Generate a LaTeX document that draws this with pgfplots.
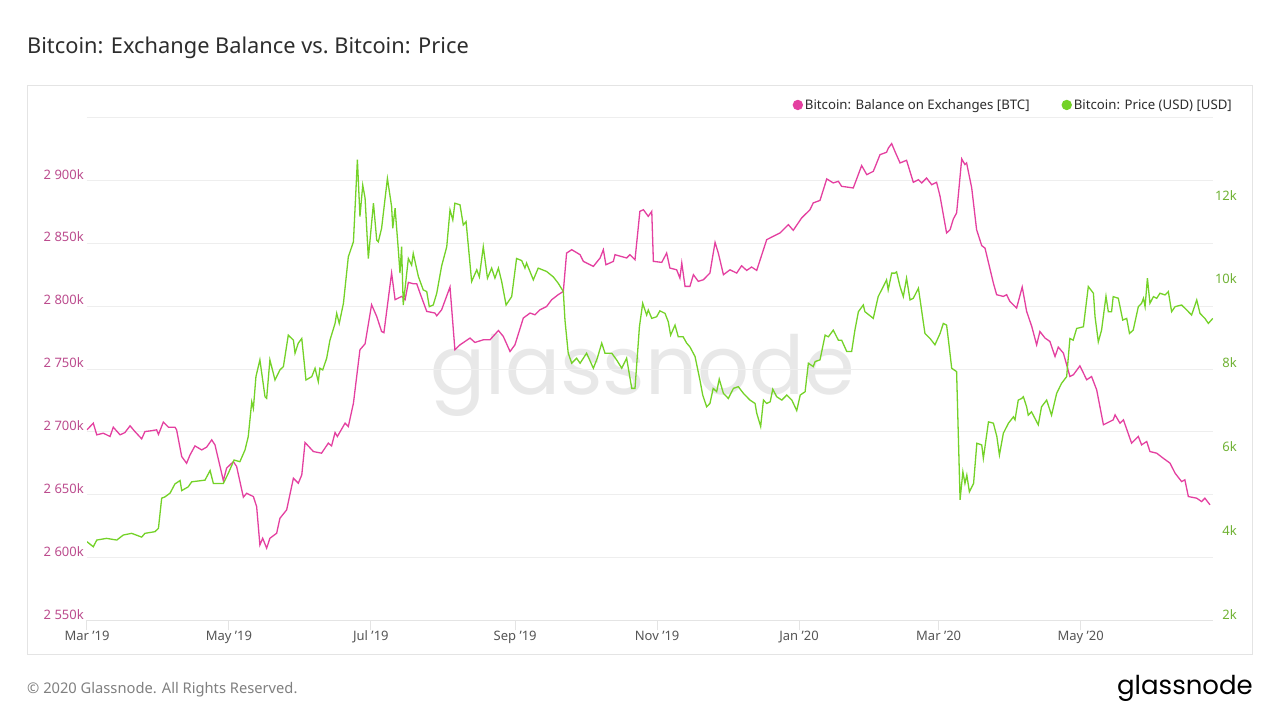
\documentclass[border=0pt]{standalone}
\usepackage{pgfplots}
\pgfplotsset{compat=1.18}
\usepackage{fontspec}
\setmainfont{Noto Sans}
\newfontfamily\logofont{Poppins}
\definecolor{pinkline}{RGB}{228,64,160}
\definecolor{pinklab}{RGB}{188,76,142}
\definecolor{greenline}{RGB}{116,210,40}
\definecolor{greenlab}{RGB}{112,178,52}
\definecolor{titlecol}{RGB}{45,45,45}
\definecolor{ticklab}{RGB}{85,85,85}
\definecolor{gridcol}{RGB}{238,238,238}
\definecolor{framecol}{RGB}{228,228,228}
\definecolor{wmcol}{RGB}{232,232,232}
\newcommand{\fs}[1]{\fontsize{#1pt}{#1pt}\selectfont}

\begin{document}
\begin{tikzpicture}[x=1pt,y=1pt]
\useasboundingbox (0,0) rectangle (1280,720);
\fill[white] (0,0) rectangle (1280,720);
\node[anchor=base west, inner sep=0pt, text=titlecol] at (27,666) {\fs{21.8}Bitcoin: Exchange Balance vs.\ Bitcoin: Price};
\draw[framecol, line width=1pt] (27,65) rectangle (1252,634);
\node[anchor=base west, inner sep=0pt, text=wmcol] at (430,325) {\logofont\fs{81.4}glassnode};
\node[anchor=base west, inner sep=0pt, text=gray] at (27,26) {\fs{14.7}© 2020 Glassnode. All Rights Reserved.};
\node[anchor=base east, inner sep=0pt, text=black] at (1253,25) {\logofont\fs{26}glassnode};

\begin{axis}[
 scale only axis, width=1126pt, height=502.8pt,
 at={(87pt,99.5pt)}, anchor=south west,
 xmin=0, xmax=483.9, ymin=2550, ymax=2950,
 axis x line*=bottom, axis y line*=left,
 separate axis lines,
 x axis line style={draw=framecol, line width=1pt, -},
 y axis line style={draw=none, -},
 xtick={0,61,122,184,245,306,366,427},
 xticklabels={Mar '19, May '19, Jul '19, Sep '19, Nov '19, Jan '20, Mar '20, May '20},
 xtick style={draw=framecol, line width=1pt},
 tick align=outside, major tick length=10pt,
 ytick={2550,2600,2650,2700,2750,2800,2850,2900,2950},
 yticklabels={2 550k,2 600k,2 650k,2 700k,2 750k,2 800k,2 850k,2 900k,{}},
 ytick style={draw=none},
 ymajorgrids, grid style={draw=gridcol, line width=1pt},
 yticklabel style={font=\fs{13}, text=pinklab, anchor=east, inner sep=0pt, xshift=7pt, yshift=6.3pt},
 xticklabel style={font=\fs{13}, text=ticklab, anchor=north, inner sep=0pt},
]
\addplot[pinkline, line width=1.3pt] table {
d v
0 2701.7
2.7 2707
4.2 2697.7
7.0 2699
9.9 2696.4
11.3 2703.8
14.2 2697.7
16.3 2699.5
18.5 2704.9
20.6 2700.3
23.5 2694.5
24.9 2700.3
27.8 2701
29.9 2701.7
30.7 2698
32.8 2707.8
35.0 2703.8
37.8 2703.8
38.5 2701.7
40.7 2680.4
42.8 2675.1
44.3 2681.8
46.4 2688.9
49.3 2685.7
51.4 2687.9
53.6 2693.7
55.0 2689.7
58.6 2661.3
60.0 2671.2
62.9 2676.4
64.3 2672.5
67.2 2648.1
68.6 2651.2
71.5 2648.6
72.9 2640.6
74.3 2610.1
75.5 2615.4
77.2 2607.5
78.6 2615.4
81.5 2619.4
82.9 2631.3
85.8 2638
88.7 2663.2
90.8 2659.2
92.3 2665.8
93.7 2691.6
97.3 2684.4
100.8 2683.1
103.7 2691.1
105.1 2688.9
106.6 2699.5
107.6 2696.4
110.9 2707
112.3 2704.3
114.5 2722.9
117.3 2765.4
119.5 2770.1
122.3 2801.2
124.5 2791.9
126.6 2779.9
127.6 2779
130.9 2826.4
132.4 2805.2
135.2 2807.8
136.7 2805.2
138.1 2819
140.2 2817.9
141.7 2817.9
143.1 2810.5
146.0 2795.9
149.5 2794.6
150.3 2792.4
152.4 2797.2
156.0 2815.3
158.1 2765.4
160.3 2769.3
164.6 2774.7
166.7 2771.2
170.3 2773.3
173.2 2773.3
176.8 2780.7
178.9 2776
181.8 2764
183.9 2769.3
187.5 2790.6
190.4 2794.6
192.5 2793.2
194.7 2797.2
197.5 2799.8
199.7 2805.2
202.5 2809.2
204.7 2811.8
206.1 2842.3
208.3 2845
211.9 2841
213.3 2835.7
217.6 2831.7
220.5 2838.4
221.9 2845
223.0 2833
226.2 2835.7
226.9 2841
231.9 2838.4
233.3 2841
235.5 2837
237.6 2875.5
239.1 2876.8
241.2 2871.5
242.7 2875.5
243.4 2835.7
247.0 2834.9
249.1 2842.3
250.5 2830.4
253.4 2829
254.8 2822.4
255.6 2834.4
257.0 2815.8
259.1 2815.8
260.6 2825.1
262.7 2819.8
264.9 2821.1
267.7 2826.4
269.9 2850.8
271.3 2842.3
273.5 2825.1
276.3 2829
279.2 2826.4
281.3 2832.2
283.5 2828.5
285.6 2831.2
287.8 2828.5
292.1 2853
294.9 2855.6
297.8 2858.3
301.4 2864.9
303.5 2860.4
307.1 2870.2
310.7 2876.8
312.1 2882.2
315.0 2884.2
317.9 2901.3
320.7 2898.1
322.9 2899.4
324.3 2895.4
329.3 2894.1
332.9 2911.9
335.1 2904.7
337.9 2907.3
340.8 2920.6
343.6 2922.5
344.4 2925.9
345.8 2929.4
347.2 2923.2
349.4 2914
352.2 2916.1
355.1 2898.6
357.3 2900.7
358.7 2898.1
360.8 2902
363.0 2896.7
365.1 2898.6
366.6 2887.4
369.4 2858.3
370.9 2860.9
372.3 2869.4
373.7 2874.2
374.4 2887.4
375.9 2917.2
377.3 2912.7
378.0 2914
380.2 2894.1
382.3 2860.9
384.5 2848.2
385.9 2846.3
389.5 2818.5
390.9 2809.2
393.8 2807.8
395.2 2809.2
396.6 2803.8
399.5 2798.6
401.9 2815.3
403.8 2795.9
406.0 2783.9
408.1 2769.3
409.5 2779.9
411.7 2774.7
413.8 2772
416.0 2760
417.4 2767.5
419.6 2762.7
422.4 2744.1
423.9 2745.5
426.7 2752.6
429.6 2741.5
431.7 2744.1
433.9 2733.5
436.8 2705.7
441.0 2709.6
441.8 2713.6
443.9 2707
445.4 2709.6
448.9 2691.1
451.8 2696.4
453.2 2689.7
455.4 2692.4
456.8 2684.4
459.7 2683.1
462.5 2679.1
465.4 2675.2
467.6 2667.2
470.4 2660.5
471.8 2661.9
473.3 2648.6
476.9 2647.3
479.0 2644.6
480.4 2647.3
482.6 2642
};
\end{axis}

\begin{axis}[
 scale only axis, width=1126pt, height=502.8pt,
 at={(87pt,99.5pt)}, anchor=south west,
 xmin=0, xmax=483.9, ymin=2, ymax=14,
 axis x line=none, axis y line*=right,
 y axis line style={draw=none, -},
 ytick={2,4,6,8,10,12}, yticklabels={2k,4k,6k,8k,10k,12k},
 ytick style={draw=none},
 yticklabel style={font=\fs{13}, text=greenlab, anchor=east, inner sep=0pt, xshift=24pt, yshift=6.3pt},
 legend style={draw=none, fill=none, font=\fs{13.2}, text=titlecol, at={(1.0213,1.0253)}, anchor=east, legend columns=2, cells={anchor=west}},
 legend image code/.code={\fill[#1] (0pt,0pt) circle (4.5pt);},
]
\addlegendimage{pinkline, line width=1.3pt}
\addlegendentry{Bitcoin: Balance on Exchanges [BTC]\mbox{}\hspace{30pt}\mbox{}}
\addplot[greenline, line width=1.3pt] table {
d p
0 3.88
2.7 3.76
4.2 3.92
8.4 3.96
12.8 3.92
15.6 4.04
19.2 4.08
23.5 3.99
24.9 4.08
29.2 4.12
30.7 4.2
32.1 4.92
33.5 4.95
35.7 5.04
37.8 5.26
40.0 5.34
40.7 5.1
43.5 5.19
45.0 5.31
50.7 5.35
52.9 5.58
54.3 5.27
58.6 5.27
60.7 5.51
63.2 5.83
65.7 5.79
67.9 6.07
69.3 6.39
70.8 7.22
71.5 7.06
72.6 7.82
74.3 8.22
75.5 7.74
76.5 7.34
77.2 7.3
78.6 8.22
80.8 7.74
82.9 7.98
84.4 8.06
86.5 8.81
88.7 8.69
89.4 8.38
90.8 8.62
92.3 8.73
94.1 7.74
96.6 7.82
98.0 8.02
99.4 7.7
100.1 8.02
101.3 7.98
103.0 8.26
104.4 8.69
106.6 9.09
107.3 9.33
108.4 9.09
110.2 9.57
112.3 10.68
114.5 11.04
116.2 13.0
117.3 11.64
118.5 12.39
119.5 12.08
120.9 10.64
123.1 11.96
124.5 11.08
125.2 11.04
126.6 11.36
129.1 12.55
130.9 11.88
131.4 11.36
132.4 11.84
133.8 10.84
134.5 10.29
135.2 10.92
135.9 9.53
138.1 10.64
139.5 10.48
140.2 10.76
142.4 10.21
144.5 9.89
146.0 9.85
147.1 9.49
148.8 9.53
150.3 9.81
152.4 10.46
154.6 10.92
156.0 11.8
157.2 11.56
158.1 11.96
160.3 11.92
161.7 11.44
162.9 11.52
165.3 10.09
167.5 10.37
168.6 10.2
170.3 10.92
172.1 10.17
173.9 10.41
175.3 10.17
176.8 10.41
178.2 10.09
180.1 9.53
182.5 9.73
184.6 10.64
186.8 10.59
188.2 10.41
188.9 10.53
191.8 10.13
193.9 10.41
197.5 10.33
200.4 10.2
202.5 10.05
204.7 9.85
205.4 9.17
206.8 8.38
208.3 8.14
210.4 8.26
211.9 8.14
214.7 8.38
217.6 8.02
219.3 8.26
221.2 8.62
222.6 8.38
225.5 8.38
227.6 8.22
229.8 8.02
231.9 8.26
234.1 7.54
235.5 7.54
237.4 9.01
238.8 9.57
240.5 9.29
241.2 9.41
242.7 9.21
244.8 9.25
246.2 9.39
248.4 9.33
249.8 9.13
250.8 8.81
252.7 9.05
254.1 8.77
256.2 8.77
257.7 8.62
259.1 8.53
261.3 8.3
263.4 7.74
264.6 7.38
266.3 7.1
267.7 7.18
269.1 7.54
270.6 7.46
271.7 7.76
273.5 7.42
275.6 7.3
277.8 7.54
279.9 7.58
282.1 7.42
284.9 7.26
287.1 7.18
287.8 6.95
289.5 6.63
290.7 7.26
292.1 7.18
293.6 7.22
294.7 7.52
296.4 7.34
298.6 7.26
300.7 7.38
302.9 7.26
305.0 7.01
306.5 7.38
308.6 7.46
310.0 8.14
312.1 8.06
312.9 8.18
315.0 8.22
317.2 8.81
318.6 8.77
320.7 8.93
322.9 8.69
324.3 8.69
326.5 8.42
328.6 8.42
330.0 8.93
331.5 9.37
333.6 9.53
334.3 9.37
337.9 9.21
340.0 9.73
342.2 9.97
343.6 10.13
344.3 9.89
345.8 10.29
347.2 10.29
347.9 10.32
349.4 9.97
350.8 9.73
352.2 10.17
353.7 9.65
355.1 9.69
357.3 9.93
360.1 8.85
362.3 8.73
364.4 8.58
366.6 8.85
368.0 9.09
369.4 9.05
370.2 8.69
371.6 8.02
373.7 7.94
375.2 4.88
376.4 5.55
377.3 5.27
378.1 5.47
379.2 5.07
381.0 5.27
382.4 6.23
384.5 6.19
385.2 5.87
387.4 6.74
389.5 6.71
391.0 6.39
392.1 5.95
393.8 6.47
396.0 6.71
398.1 6.86
398.8 6.79
400.2 7.26
401.7 7.3
402.4 7.34
403.8 7.1
404.5 6.9
405.9 6.98
408.8 6.67
410.2 7.1
412.4 7.26
414.5 6.9
416.7 7.42
418.8 7.66
421.0 7.82
422.4 8.73
423.8 8.69
425.3 8.97
428.2 9.01
430.3 9.97
432.5 9.81
433.2 9.25
434.6 8.65
436.0 8.93
437.9 9.74
438.9 9.37
440.3 9.37
441.0 9.73
443.2 9.69
445.1 9.17
446.8 9.21
448.0 8.85
449.6 8.93
451.8 9.49
453.2 9.57
454.0 9.69
454.7 9.49
455.7 10.17
456.8 9.57
458.3 9.73
459.7 9.69
461.1 9.81
463.3 9.77
464.7 9.85
466.1 9.37
467.6 9.49
470.4 9.53
472.6 9.41
474.7 9.29
476.9 9.65
478.3 9.33
480.4 9.21
481.9 9.09
483.8 9.21
};
\addlegendentry{Bitcoin: Price (USD) [USD]}
\end{axis}
\end{tikzpicture}
\end{document}
